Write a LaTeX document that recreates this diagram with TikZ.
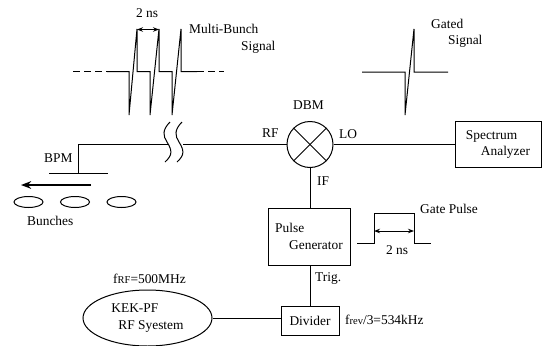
\documentclass[tikz,border=0pt]{standalone}
\usepackage{fontspec}
\setmainfont{Liberation Serif}
\usetikzlibrary{arrows.meta,positioning,shapes.geometric,calc}
\newcommand{\subtxt}[1]{{\fontsize{10.5}{12}\selectfont #1}}

\begin{document}
\begin{tikzpicture}[
    x=1pt, y=-1pt,
    font=\fontsize{13.4}{16.5}\selectfont,
    blk/.style={rectangle, draw=black, line width=1pt, inner sep=0pt},
    oval/.style={ellipse, draw=black, line width=1pt, inner sep=0pt},
    lbl/.style={inner sep=0pt, anchor=west},
    wire/.style={line width=1pt},
    sig/.style={line width=1pt},
    gap/.style={line width=1pt, dash pattern=on 7pt off 4pt},
    dim/.style={{Stealth[scale=0.8]}-{Stealth[scale=0.8]}, line width=1pt}
]
\useasboundingbox (0,0) rectangle (542,346);

% main blocks
\node[circle, draw=black, line width=1pt, minimum size=46pt, inner sep=0pt] (dbm) at (310,144.5) {};
\node[blk, minimum width=86pt, minimum height=46pt, align=left] (spec) at (498,144.5) {Spectrum\\\hspace*{15pt}Analyzer};
\node[blk, minimum width=82pt, minimum height=57pt, align=left] (pulse) at (309,236.5) {Pulse\\\hspace*{14pt}Generator};
\node[blk, minimum width=58pt, minimum height=29pt] (divider) at (310,320.5) {Divider};
\node[oval, minimum width=129pt, minimum height=56pt, align=left] (kek) at (147.5,318) {KEK-PF\\\hspace*{7pt}RF Syestem};
\node[lbl] (fkek) at (113,279) {f\subtxt{RF}=500MHz};
\node[lbl] (fdiv) at (345,320) {f\subtxt{rev}/3=534kHz};

% mixer cross
\draw[wire] (dbm.45) -- (dbm.225);
\draw[wire] (dbm.135) -- (dbm.315);

% labels
\node[lbl] (dbmlbl) at (293,105) {DBM};
\node[lbl] (rflbl) at (262,133) {RF};
\node[lbl] (lolbl) at (339,134) {LO};
\node[lbl] (iflbl) at (317,181) {IF};
\node[lbl] (triglbl) at (315,279) {Trig.};
\node[lbl] (bpmlbl) at (44,158) {BPM};
\node[lbl] (bunchlbl) at (27,221) {Bunches};
\node[lbl] (multilbl) at (189,29) {Multi-Bunch};
\node[lbl] (multisig) at (241,47) {Signal};
\node[lbl] (gatedlbl) at (431,24) {Gated};
\node[lbl] (gatedsig) at (448,41) {Signal};
\node[lbl] (gatelbl) at (420,209) {Gate Pulse};

% BPM and beam line
\coordinate (plate) at (78,173);
\coordinate (corner) at (78,144.5);
\coordinate (brkl) at (168,144.5);
\coordinate (brkr) at (183,144.5);
\draw[wire] (49,173) -- (108,173);
\draw[wire] (plate) -- (corner) -- (brkl);
\draw[wire] (brkr) -- (dbm);
\draw[wire] (dbm) -- (spec);
\draw[wire] (dbm) -- (dbm|-pulse.north);
\draw[wire] (dbm|-pulse.south) -- (dbm|-divider.north);
\draw[wire] (kek.east) -- (kek.east-|divider.west);

% cable break
\draw[wire] (170,122) .. controls (162,130) and (163,136) .. (167,142) .. controls (172,150) and (173,155) .. (165,162);
\draw[wire] (182,122) .. controls (174,130) and (175,136) .. (179,142) .. controls (184,150) and (185,155) .. (177,162);

% bunches
\draw[-{Stealth[scale=1.0]}, line width=1.6pt] (91,185) -- (21,185);
\node[oval, minimum width=29pt, minimum height=11pt] (b1) at (28.5,202) {};
\node[oval, minimum width=29pt, minimum height=11pt] (b2) at (75,202) {};
\node[oval, minimum width=29pt, minimum height=11pt] (b3) at (121.5,202) {};

% multi-bunch signal
\draw[gap] (73,71.5) -- (107,71.5);
\draw[sig] (107,71.5) -- (129,71.5) -- (129,115) -- (137,29) -- (137,71.5) -- (150,71.5) -- (150,115)
    -- (159,29) -- (159,71.5) -- (172,71.5) -- (172,115) -- (181,29) -- (181,71.5) -- (197,71.5);
\draw[gap] (197,71.5) -- (224,71.5);
\draw[dim] (137,29.5) -- (159,29.5);
\node[inner sep=0pt] (tbunch) at (147,13) {2 ns};

% gated signal
\draw[sig] (362,72) -- (405,72) -- (405,115) -- (414,29) -- (414,72) -- (448,72);

% gate pulse
\draw[sig] (357,243) -- (374,243) -- (374,213.5) -- (414,213.5) -- (414,243) -- (431,243);
\draw[dim] (374,231) -- (414,231);
\node[inner sep=0pt] (tgate) at (397,250) {2 ns};
\end{tikzpicture}
\end{document}
